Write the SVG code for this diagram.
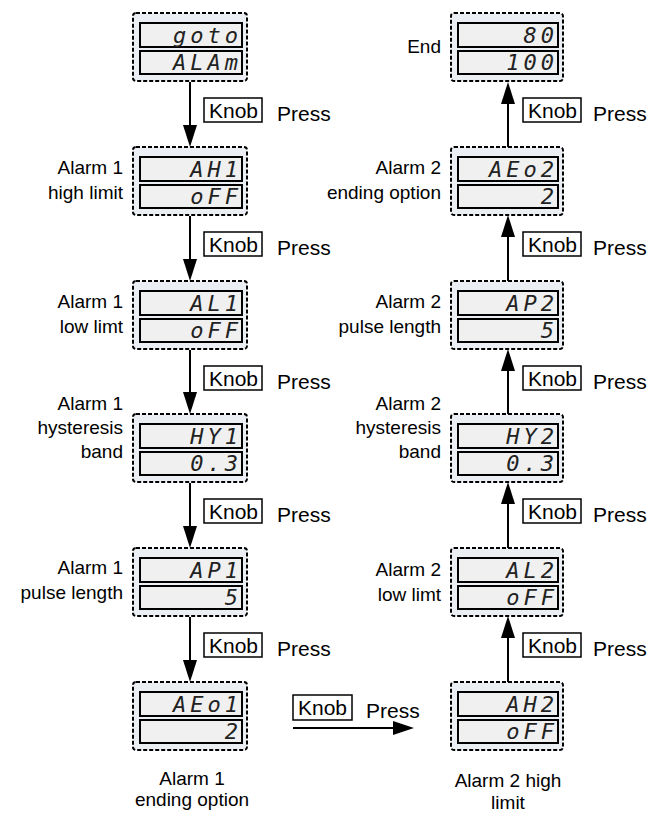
<svg xmlns="http://www.w3.org/2000/svg" width="650" height="815" viewBox="0 0 650 815">
<style>
.outer{fill:#ebeef3;stroke:#000;stroke-width:2;stroke-dasharray:4 2}
.inner{fill:#f0f0f0;stroke:#000;stroke-width:2}
.seg{font-family:"DejaVu Sans Mono",monospace;font-style:italic;font-size:22px;letter-spacing:4px;text-anchor:end;fill:#222}
.lbl{font-family:"Liberation Sans",Arial,sans-serif;font-size:19px;fill:#000}
.kt{font-family:"Liberation Sans",Arial,sans-serif;font-size:21px;fill:#000}
.le{text-anchor:end}
.mid{text-anchor:middle}
.kb{fill:#fff;stroke:#000;stroke-width:1.5}
.ln{stroke:#000;stroke-width:2;fill:none}
</style>
<rect width="650" height="815" fill="#fff"/>

<!-- Left column -->
<g id="n-goto">
<rect class="outer" x="133" y="13" width="114" height="68" rx="3"/>
<rect class="inner" x="140" y="23" width="102" height="24"/>
<rect class="inner" x="140" y="51" width="102" height="23"/>
<text class="seg" x="242" y="43">goto</text>
<text class="seg" x="242" y="70">ALAm</text>
</g>
<g id="n-ah1">
<rect class="outer" x="133" y="147" width="114" height="68" rx="3"/>
<rect class="inner" x="140" y="157" width="102" height="24"/>
<rect class="inner" x="140" y="185" width="102" height="23"/>
<text class="seg" x="242" y="177">AH1</text>
<text class="seg" x="242" y="204">oFF</text>
<text class="lbl le" x="123" y="174">Alarm 1</text>
<text class="lbl le" x="123" y="199">high limit</text>
</g>
<g id="n-al1">
<rect class="outer" x="133" y="281" width="114" height="68" rx="3"/>
<rect class="inner" x="140" y="291" width="102" height="24"/>
<rect class="inner" x="140" y="319" width="102" height="23"/>
<text class="seg" x="242" y="311">AL1</text>
<text class="seg" x="242" y="338">oFF</text>
<text class="lbl le" x="123" y="308">Alarm 1</text>
<text class="lbl le" x="123" y="333">low limt</text>
</g>
<g id="n-hy1">
<rect class="outer" x="133" y="414" width="114" height="68" rx="3"/>
<rect class="inner" x="140" y="424" width="102" height="24"/>
<rect class="inner" x="140" y="452" width="102" height="23"/>
<text class="seg" x="242" y="444">HY1</text>
<text class="seg" x="242" y="471">0.3</text>
<text class="lbl le" x="123" y="410">Alarm 1</text>
<text class="lbl le" x="123" y="434">hysteresis</text>
<text class="lbl le" x="123" y="458">band</text>
</g>
<g id="n-ap1">
<rect class="outer" x="133" y="548" width="114" height="68" rx="3"/>
<rect class="inner" x="140" y="558" width="102" height="24"/>
<rect class="inner" x="140" y="586" width="102" height="23"/>
<text class="seg" x="242" y="578">AP1</text>
<text class="seg" x="242" y="605">5</text>
<text class="lbl le" x="123" y="574">Alarm 1</text>
<text class="lbl le" x="123" y="599">pulse  length</text>
</g>
<g id="n-aeo1">
<rect class="outer" x="133" y="682" width="114" height="68" rx="3"/>
<rect class="inner" x="140" y="692" width="102" height="24"/>
<rect class="inner" x="140" y="720" width="102" height="23"/>
<text class="seg" x="242" y="712">AEo1</text>
<text class="seg" x="242" y="739">2</text>
<text class="lbl mid" x="192" y="785">Alarm 1</text>
<text class="lbl mid" x="192" y="806">ending option</text>
</g>

<!-- Right column -->
<g id="n-end">
<rect class="outer" x="451" y="13" width="112" height="68" rx="3"/>
<rect class="inner" x="458" y="23" width="100" height="24"/>
<rect class="inner" x="458" y="51" width="100" height="23"/>
<text class="seg" x="558" y="43">80</text>
<text class="seg" x="558" y="70">100</text>
<text class="lbl le" x="441" y="53">End</text>
</g>
<g id="n-aeo2">
<rect class="outer" x="451" y="147" width="112" height="68" rx="3"/>
<rect class="inner" x="458" y="157" width="100" height="24"/>
<rect class="inner" x="458" y="185" width="100" height="23"/>
<text class="seg" x="558" y="177">AEo2</text>
<text class="seg" x="558" y="204">2</text>
<text class="lbl le" x="441" y="174">Alarm 2</text>
<text class="lbl le" x="441" y="199">ending option</text>
</g>
<g id="n-ap2">
<rect class="outer" x="451" y="281" width="112" height="68" rx="3"/>
<rect class="inner" x="458" y="291" width="100" height="24"/>
<rect class="inner" x="458" y="319" width="100" height="23"/>
<text class="seg" x="558" y="311">AP2</text>
<text class="seg" x="558" y="338">5</text>
<text class="lbl le" x="441" y="308">Alarm 2</text>
<text class="lbl le" x="441" y="333">pulse  length</text>
</g>
<g id="n-hy2">
<rect class="outer" x="451" y="414" width="112" height="68" rx="3"/>
<rect class="inner" x="458" y="424" width="100" height="24"/>
<rect class="inner" x="458" y="452" width="100" height="23"/>
<text class="seg" x="558" y="444">HY2</text>
<text class="seg" x="558" y="471">0.3</text>
<text class="lbl le" x="441" y="410">Alarm 2</text>
<text class="lbl le" x="441" y="434">hysteresis</text>
<text class="lbl le" x="441" y="458">band</text>
</g>
<g id="n-al2">
<rect class="outer" x="451" y="548" width="112" height="68" rx="3"/>
<rect class="inner" x="458" y="558" width="100" height="24"/>
<rect class="inner" x="458" y="586" width="100" height="23"/>
<text class="seg" x="558" y="578">AL2</text>
<text class="seg" x="558" y="605">oFF</text>
<text class="lbl le" x="441" y="576">Alarm 2</text>
<text class="lbl le" x="441" y="601">low limt</text>
</g>
<g id="n-ah2">
<rect class="outer" x="451" y="682" width="112" height="68" rx="3"/>
<rect class="inner" x="458" y="692" width="100" height="24"/>
<rect class="inner" x="458" y="720" width="100" height="23"/>
<text class="seg" x="558" y="712">AH2</text>
<text class="seg" x="558" y="739">oFF</text>
<text class="lbl mid" x="508" y="787">Alarm 2 high</text>
<text class="lbl mid" x="508" y="809">limit</text>
</g>

<!-- Connectors -->
<g id="connectors">
<line class="ln" x1="190" y1="82" x2="190" y2="126"/><polygon points="183,125 197,125 190,147"/>
<line class="ln" x1="190" y1="216" x2="190" y2="260"/><polygon points="183,259 197,259 190,281"/>
<line class="ln" x1="190" y1="350" x2="190" y2="393"/><polygon points="183,392 197,392 190,414"/>
<line class="ln" x1="190" y1="483" x2="190" y2="527"/><polygon points="183,526 197,526 190,548"/>
<line class="ln" x1="190" y1="617" x2="190" y2="661"/><polygon points="183,660 197,660 190,682"/>

<line class="ln" x1="293" y1="728" x2="395" y2="728"/><polygon points="393,721 393,735 414,728"/>

<line class="ln" x1="508" y1="682" x2="508" y2="637"/><polygon points="501,638 515,638 508,616"/>
<line class="ln" x1="508" y1="548" x2="508" y2="503"/><polygon points="501,504 515,504 508,482"/>
<line class="ln" x1="508" y1="414" x2="508" y2="370"/><polygon points="501,371 515,371 508,349"/>
<line class="ln" x1="508" y1="281" x2="508" y2="236"/><polygon points="501,237 515,237 508,215"/>
<line class="ln" x1="508" y1="147" x2="508" y2="103"/><polygon points="501,104 515,104 508,82"/>
</g>

<!-- Knob Press labels -->
<g id="knobs-left">
<rect class="kb" x="204" y="98" width="58" height="24"/><text class="kt" x="209" y="118">Knob</text><text class="kt" x="277" y="121">Press</text>
<rect class="kb" x="204" y="232" width="58" height="24"/><text class="kt" x="209" y="252">Knob</text><text class="kt" x="277" y="255">Press</text>
<rect class="kb" x="204" y="366" width="58" height="24"/><text class="kt" x="209" y="386">Knob</text><text class="kt" x="277" y="389">Press</text>
<rect class="kb" x="204" y="499" width="58" height="24"/><text class="kt" x="209" y="519">Knob</text><text class="kt" x="277" y="522">Press</text>
<rect class="kb" x="204" y="633" width="58" height="24"/><text class="kt" x="209" y="653">Knob</text><text class="kt" x="277" y="656">Press</text>
</g>
<g id="knob-bottom">
<rect class="kb" x="293" y="695" width="59" height="25"/><text class="kt" x="298" y="715">Knob</text><text class="kt" x="366" y="718">Press</text>
</g>
<g id="knobs-right">
<rect class="kb" x="523" y="98" width="58" height="24"/><text class="kt" x="528" y="118">Knob</text><text class="kt" x="593" y="121">Press</text>
<rect class="kb" x="523" y="232" width="58" height="24"/><text class="kt" x="528" y="252">Knob</text><text class="kt" x="593" y="255">Press</text>
<rect class="kb" x="523" y="366" width="58" height="24"/><text class="kt" x="528" y="386">Knob</text><text class="kt" x="593" y="389">Press</text>
<rect class="kb" x="523" y="499" width="58" height="24"/><text class="kt" x="528" y="519">Knob</text><text class="kt" x="593" y="522">Press</text>
<rect class="kb" x="523" y="633" width="58" height="24"/><text class="kt" x="528" y="653">Knob</text><text class="kt" x="593" y="656">Press</text>
</g>
</svg>
